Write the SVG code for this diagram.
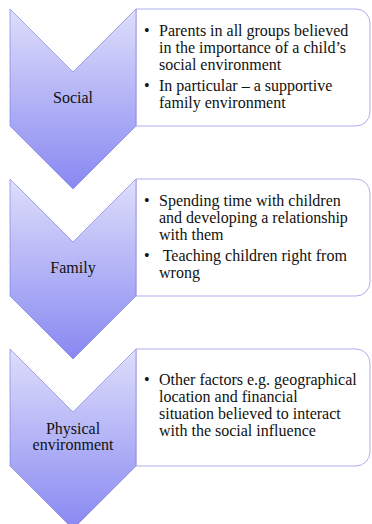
<svg xmlns="http://www.w3.org/2000/svg" width="372" height="524" viewBox="0 0 372 524">
  <defs>
    <linearGradient id="chevFill" x1="0" y1="0" x2="0" y2="1">
      <stop offset="0" stop-color="#dedefb"/>
      <stop offset="1" stop-color="#8888f2"/>
    </linearGradient>
  </defs>
  <style>
    .box { fill: #ffffff; stroke: #a4a4ea; stroke-width: 0.9; }
    .chev { fill: url(#chevFill); stroke: #7a7ae0; stroke-width: 0.8; stroke-opacity: 0.8; }
    .label { font-family: 'Liberation Serif', 'DejaVu Serif', serif; font-size: 16px; fill: #111111; text-anchor: middle; }
    .txt { font-family: 'Liberation Serif', 'DejaVu Serif', serif; font-size: 16px; fill: #111111; }
  </style>
  <rect width="372" height="524" fill="#ffffff"/>

  <g id="connectors"></g>

  <!-- Step 1: Social -->
  <g id="social">
    <path class="box" d="M136,9 H356 A14,14 0 0 1 370,23 V112 A14,14 0 0 1 356,126 H136 Z"/>
    <path class="chev" d="M10,9 L73,72 L136,9 L136,126 L73,189 L10,126 Z"/>
    <text class="label" x="73" y="103">Social</text>
    <text class="txt">
      <tspan x="144" y="36">•</tspan><tspan x="159" y="36">Parents in all groups believed</tspan>
      <tspan x="159" y="53">in the importance of a child’s</tspan>
      <tspan x="159" y="70">social environment</tspan>
      <tspan x="144" y="91">•</tspan><tspan x="159" y="91">In particular – a supportive</tspan>
      <tspan x="159" y="108">family environment</tspan>
    </text>
  </g>

  <!-- Step 2: Family -->
  <g id="family">
    <path class="box" d="M136,179 H356 A14,14 0 0 1 370,193 V282 A14,14 0 0 1 356,296 H136 Z"/>
    <path class="chev" d="M10,179 L73,242 L136,179 L136,296 L73,359 L10,296 Z"/>
    <text class="label" x="73" y="273">Family</text>
    <text class="txt">
      <tspan x="144" y="206">•</tspan><tspan x="159" y="206">Spending time with children</tspan>
      <tspan x="159" y="223">and developing a relationship</tspan>
      <tspan x="159" y="240">with them</tspan>
      <tspan x="144" y="261">•</tspan><tspan x="159" y="261" xml:space="preserve"> Teaching children right from</tspan>
      <tspan x="159" y="278">wrong</tspan>
    </text>
  </g>

  <!-- Step 3: Physical environment -->
  <g id="physical">
    <path class="box" d="M136,349 H356 A14,14 0 0 1 370,363 V452 A14,14 0 0 1 356,466 H136 Z"/>
    <path class="chev" d="M10,349 L73,412 L136,349 L136,466 L73,529 L10,466 Z"/>
    <text class="label" x="73" y="434">Physical</text>
    <text class="label" x="73" y="450">environment</text>
    <text class="txt">
      <tspan x="144" y="385">•</tspan><tspan x="159" y="385">Other factors e.g. geographical</tspan>
      <tspan x="159" y="402">location and financial</tspan>
      <tspan x="159" y="419">situation believed to interact</tspan>
      <tspan x="159" y="436">with the social influence</tspan>
    </text>
  </g>
</svg>
